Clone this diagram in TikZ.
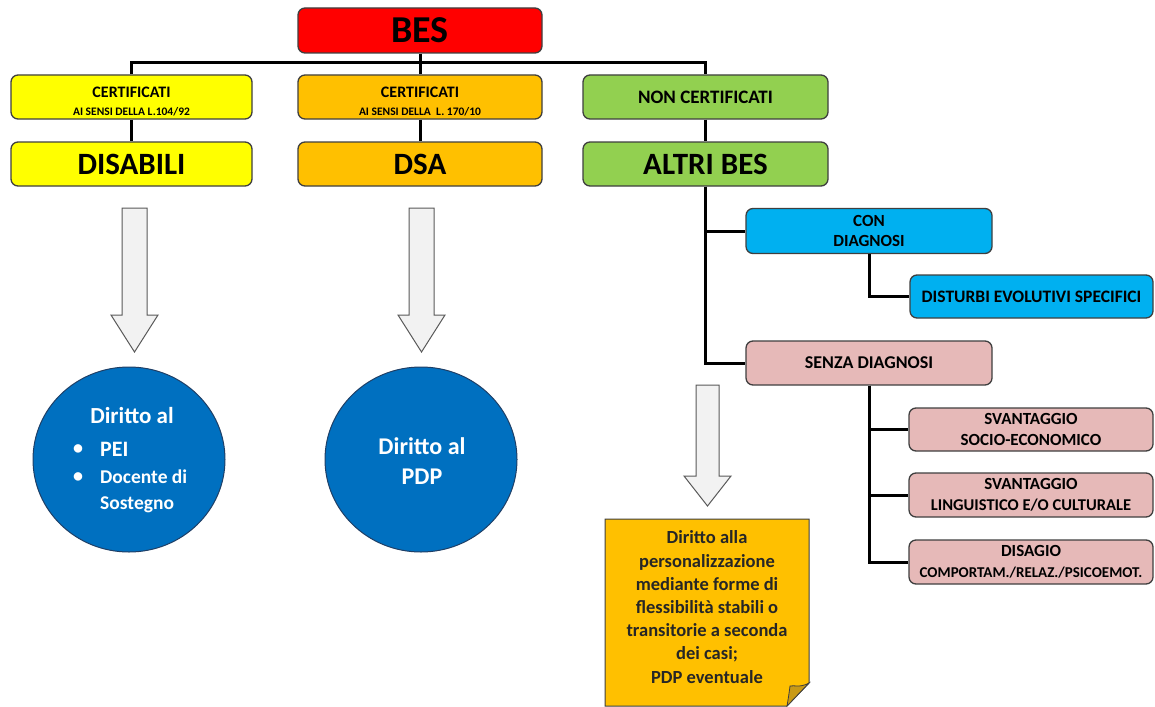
\documentclass[tikz,border=0pt]{standalone}
\usepackage{fontspec}
\setmainfont{Carlito}
\usetikzlibrary{shapes.geometric}
\definecolor{cred}{HTML}{FF0000}
\definecolor{cyellow}{HTML}{FFFF00}
\definecolor{corange}{HTML}{FFC000}
\definecolor{cgreen}{HTML}{92D050}
\definecolor{cblue}{HTML}{00B0F0}
\definecolor{cpink}{HTML}{E6B9B8}
\definecolor{ccircle}{HTML}{0070C0}
\definecolor{ccircleb}{HTML}{1F3F66}
\definecolor{boxborder}{HTML}{3F3F3F}
\definecolor{arrowfill}{HTML}{F2F2F2}
\definecolor{arrowborder}{HTML}{595959}
\definecolor{cnote}{HTML}{FFC000}
\definecolor{cfold}{HTML}{C99A16}
\newcommand\myfs[2]{\fontsize{#1}{#2}\selectfont}
\begin{document}
\begin{tikzpicture}[x=1pt,y=-1pt,font=\bfseries,
  box/.style={draw=boxborder,line width=1.3pt,rounded corners=7pt,inner sep=0pt,align=center,minimum height=44pt,text=black},
  conn/.style={line width=3pt,black},
  bigarrow/.style={fill=arrowfill,draw=arrowborder,line width=1pt,line join=miter},
  round/.style={ellipse,fill=ccircle,draw=ccircleb,line width=1pt,minimum width=192pt,minimum height=185pt,inner sep=0pt},
  wtxt/.style={text=white,inner sep=0pt},
]
\useasboundingbox (0,0) rectangle (1155,706);

% top
\node[box,fill=cred,minimum width=244pt,minimum height=45pt,font=\bfseries\myfs{38}{40}] (bes) at (420,30.5) {BES};

% level 1
\node[box,fill=cyellow,minimum width=241pt,font=\bfseries\myfs{16}{17.5}] (cert1) at (131.5,97) {\rule{0pt}{20pt}CERTIFICATI\\{\myfs{11.5}{13}AI SENSI DELLA L.104/92}};
\node[box,fill=corange,minimum width=244pt,font=\bfseries\myfs{16}{17.5}] (cert2) at (420,97) {\rule{0pt}{20pt}CERTIFICATI\\{\myfs{11.5}{13}AI SENSI DELLA\ \ L. 170/10}};
\node[box,fill=cgreen,minimum width=245pt,font=\bfseries\myfs{19}{20}] (noncert) at (705.5,97) {NON CERTIFICATI};

% level 2
\node[box,fill=cyellow,minimum width=241pt,font=\bfseries\myfs{31}{33}] (dis) at (131.5,164) {DISABILI};
\node[box,fill=corange,minimum width=244pt,font=\bfseries\myfs{31}{33}] (dsa) at (420,164) {DSA};
\node[box,fill=cgreen,minimum width=245pt,font=\bfseries\myfs{31}{33}] (altri) at (705.5,164) {ALTRI BES};

% right branch
\node[box,fill=cblue,minimum width=246pt,minimum height=45pt,font=\bfseries\myfs{17}{20.5}] (con) at (869,231) {CON\\DIAGNOSI};
\node[box,fill=cblue,minimum width=243pt,minimum height=43pt,font=\bfseries\myfs{17.5}{20}] (dist) at (1031.5,296.5) {DISTURBI EVOLUTIVI SPECIFICI};
\node[box,fill=cpink,minimum width=246pt,font=\bfseries\myfs{18}{20}] (senza) at (869,363) {SENZA DIAGNOSI};
\node[box,fill=cpink,minimum width=244pt,minimum height=43pt,font=\bfseries\myfs{17}{21}] (sv1) at (1031,429.5) {SVANTAGGIO\\SOCIO-ECONOMICO};
\node[box,fill=cpink,minimum width=244pt,font=\bfseries\myfs{16.5}{21}] (sv2) at (1031,495) {{\myfs{17}{21}SVANTAGGIO}\\LINGUISTICO E/O CULTURALE};
\node[box,fill=cpink,minimum width=244pt,font=\bfseries\myfs{15}{21}] (dsg) at (1031,562) {{\myfs{17}{21}DISAGIO}\\COMPORTAM./RELAZ./PSICOEMOT.};

% connectors
\draw[conn] (bes.south) -- (cert2.north);
\draw[conn] (cert1.north) -- ++(0,-12) -| (noncert.north);
\draw[conn] (cert1.south) -- (dis.north);
\draw[conn] (cert2.south) -- (dsa.north);
\draw[conn] (noncert.south) -- (altri.north);
\draw[conn] (altri.south) |- (con.west);
\draw[conn] (altri.south) |- (senza.west);
\draw[conn] (con.south) |- (dist.west);
\draw[conn] (senza.south) |- (sv1.west);
\draw[conn] (senza.south) |- (sv2.west);
\draw[conn] (senza.south) |- (dsg.west);

% big arrows
\filldraw[bigarrow] (122,208) -- (147,208) -- (147,315) -- (158,315) -- (134.5,352) -- (111,315) -- (122,315) -- cycle;
\filldraw[bigarrow] (409,208) -- (434,208) -- (434,315) -- (445,315) -- (421.5,352) -- (398,315) -- (409,315) -- cycle;
\filldraw[bigarrow] (696,385) -- (719,385) -- (719,476) -- (731,476) -- (707.5,506) -- (684,476) -- (696,476) -- cycle;

% circles
\node[round] (c1) at (129,459.5) {};
\node[round] (c2) at (421,459.5) {};
\node[wtxt,font=\bfseries\myfs{23}{25}] (c1a) at (132,416) {Diritto al};
\node[wtxt,font=\bfseries\myfs{20}{22}] (c1b1) at (78,450) {\textbullet};
\node[wtxt,anchor=west,font=\bfseries\myfs{22}{24}] (c1b) at (100,449) {PEI};
\node[wtxt,font=\bfseries\myfs{20}{22}] (c1c1) at (78,478) {\textbullet};
\node[wtxt,anchor=west,font=\bfseries\myfs{19.5}{21}] (c1c) at (100,477) {Docente di};
\node[wtxt,anchor=west,font=\bfseries\myfs{19.5}{21}] (c1d) at (100,505) {Sostegno};
\node[wtxt,align=center,font=\bfseries\myfs{24}{30}] (c2a) at (422,461) {Diritto al\\PDP};

% note
\filldraw[fill=cnote,draw=boxborder,line width=1pt] (605,519) -- (809,519) -- (809,683) -- (787,706) -- (605,706) -- cycle;
\filldraw[fill=cfold,draw=boxborder,line width=0.8pt] (809,683) .. controls (800,688) and (794,685) .. (790,686) .. controls (789,694) and (788,700) .. (787,706) -- cycle;
\node[inner sep=0pt,align=center,text=black!85,font=\bfseries\myfs{18.5}{23.2}] (note) at (707,607) {Diritto alla\\personalizzazione\\mediante forme di\\flessibilità stabili o\\transitorie a seconda\\dei casi;\\PDP eventuale};
\end{tikzpicture}
\end{document}
